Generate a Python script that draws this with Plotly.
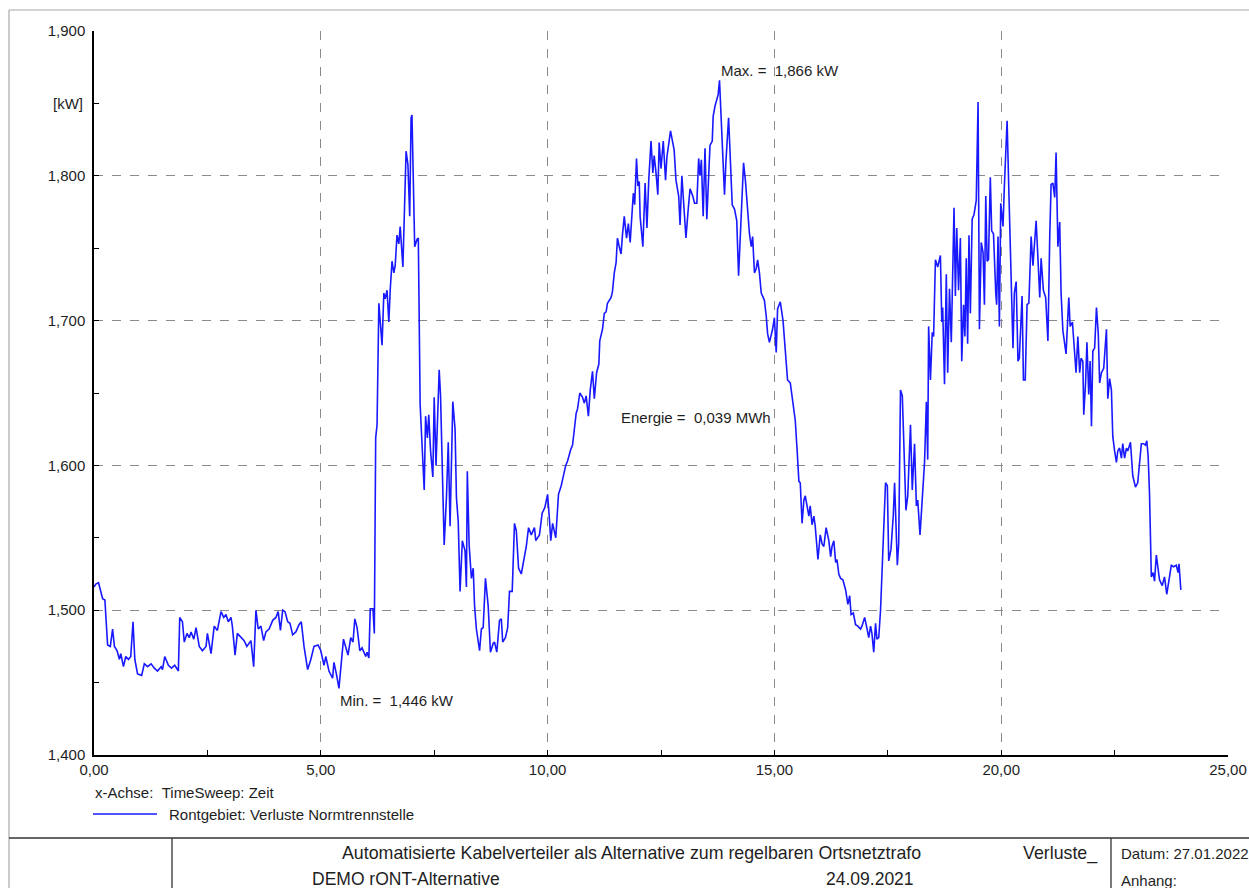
import plotly.graph_objects as go

# ---------------- data ----------------
time_h = [
    0.00, 0.04, 0.10, 0.19, 0.24, 0.30, 0.36, 0.41, 0.45, 0.51, 0.56, 0.59, 0.65, 0.70, 0.76, 0.81, 0.86, 0.90, 0.96, 1.05,
    1.11, 1.18, 1.26, 1.33, 1.40, 1.48, 1.51, 1.56, 1.64, 1.71, 1.78, 1.86, 1.89, 1.95, 1.99, 2.05, 2.10, 2.14, 2.20, 2.25,
    2.32, 2.39, 2.47, 2.50, 2.58, 2.65, 2.72, 2.80, 2.86, 2.91, 2.96, 3.02, 3.05, 3.11, 3.16, 3.24, 3.31, 3.37, 3.46, 3.52,
    3.57, 3.62, 3.68, 3.74, 3.79, 3.86, 3.94, 4.01, 4.06, 4.11, 4.16, 4.21, 4.27, 4.32, 4.38, 4.45, 4.52, 4.57, 4.63, 4.71,
    4.78, 4.85, 4.94, 5.00,
    5.07, 5.11, 5.18, 5.26, 5.29, 5.35, 5.40, 5.50, 5.55, 5.60, 5.66, 5.71, 5.75, 5.80, 5.86, 5.91, 5.99, 6.02, 6.06, 6.09,
    6.15, 6.18, 6.21, 6.24, 6.28, 6.31, 6.35, 6.39, 6.42, 6.46, 6.50, 6.53, 6.57, 6.61, 6.64, 6.68, 6.72, 6.75, 6.81, 6.88,
    6.92, 6.96, 6.99, 7.01, 7.07, 7.12, 7.15, 7.19, 7.23, 7.28, 7.31, 7.35, 7.38, 7.42, 7.47, 7.50, 7.54, 7.61, 7.64, 7.69,
    7.72, 7.77, 7.81, 7.85, 7.91, 7.96, 7.99, 8.03, 8.07, 8.12, 8.18, 8.21, 8.23, 8.27, 8.32, 8.36, 8.39, 8.43, 8.50, 8.54,
    8.58, 8.63, 8.69, 8.74, 8.80, 8.83, 8.88, 8.94, 8.98, 9.01, 9.07, 9.12, 9.16, 9.22, 9.27, 9.31, 9.36, 9.42, 9.47, 9.53,
    9.58, 9.64, 9.71, 9.74, 9.82, 9.88, 9.94, 10.00, 10.04, 10.07, 10.11, 10.18, 10.24, 10.30,
    10.40, 10.44, 10.51, 10.55, 10.63, 10.66, 10.71, 10.77, 10.81, 10.85, 10.90, 10.94, 10.99, 11.03, 11.08, 11.13, 11.15,
    11.21, 11.25, 11.29, 11.32, 11.36, 11.40, 11.43, 11.47, 11.51, 11.54, 11.58, 11.62, 11.65, 11.69, 11.74, 11.78, 11.82,
    11.86, 11.89, 11.92, 11.96, 11.99, 12.02, 12.04, 12.10, 12.15, 12.19, 12.23, 12.28, 12.32, 12.35, 12.39, 12.43, 12.46,
    12.50, 12.55, 12.60, 12.63, 12.67, 12.71, 12.74, 12.79, 12.83, 12.89, 12.92, 12.96, 13.00, 13.05, 13.10, 13.14, 13.20,
    13.24, 13.29, 13.33, 13.36, 13.39, 13.43, 13.47, 13.51, 13.55, 13.58, 13.63, 13.65, 13.69, 13.73, 13.76, 13.79, 13.82,
    13.86, 13.90, 13.93, 13.99, 14.02, 14.07, 14.12, 14.17, 14.21, 14.25, 14.32, 14.36, 14.41, 14.45, 14.49, 14.52, 14.56,
    14.60, 14.63, 14.67, 14.71, 14.74, 14.78, 14.82, 14.85, 14.89, 14.93, 14.96, 15.00, 15.04, 15.07, 15.13,
    15.19, 15.24, 15.29, 15.35, 15.41, 15.46, 15.50, 15.54, 15.57, 15.61, 15.65, 15.68, 15.72, 15.76, 15.79, 15.83, 15.87,
    15.90, 15.96, 16.01, 16.05, 16.09, 16.14, 16.20, 16.24, 16.27, 16.31, 16.35, 16.38, 16.42, 16.46, 16.51, 16.57, 16.62,
    16.66, 16.69, 16.74, 16.79, 16.84, 16.90, 16.93, 16.99, 17.03, 17.08, 17.12, 17.15, 17.19, 17.23, 17.26, 17.30, 17.34,
    17.40, 17.45, 17.49, 17.52, 17.57, 17.62, 17.65, 17.71, 17.74, 17.78, 17.82, 17.85, 17.90, 17.94, 18.00, 18.04, 18.09,
    18.13, 18.16, 18.21, 18.26, 18.31, 18.35, 18.38, 18.40, 18.44, 18.48, 18.51, 18.55, 18.60, 18.66,
    18.69, 18.71, 18.75, 18.79, 18.82, 18.86, 18.90, 18.96, 18.99, 19.02, 19.06, 19.10, 19.13, 19.17, 19.20, 19.23, 19.26,
    19.29, 19.32, 19.36, 19.40, 19.45, 19.49, 19.52, 19.56, 19.60, 19.63, 19.66, 19.69, 19.72, 19.76, 19.79, 19.83, 19.88,
    19.90, 19.93, 19.96, 19.99, 20.04, 20.07, 20.13, 20.17, 20.22, 20.26, 20.29, 20.33, 20.37, 20.40, 20.46, 20.49, 20.53,
    20.57, 20.61, 20.66, 20.70, 20.74, 20.77, 20.81, 20.85, 20.88, 20.93, 20.98, 21.03, 21.07, 21.10, 21.14, 21.18, 21.21,
    21.25, 21.29, 21.32, 21.36, 21.40, 21.43, 21.49, 21.52, 21.57, 21.62, 21.65, 21.69, 21.73, 21.76, 21.80, 21.82, 21.86,
    21.89, 21.93, 21.96, 21.99, 22.02, 22.06, 22.10, 22.14, 22.17, 22.21, 22.26, 22.32, 22.35, 22.39, 22.43, 22.46, 22.50,
    22.54, 22.57, 22.61, 22.65, 22.68, 22.72, 22.76, 22.79, 22.85, 22.90, 22.96, 23.01, 23.05, 23.09, 23.14, 23.18, 23.21,
    23.24, 23.27, 23.31, 23.35, 23.38, 23.42, 23.46, 23.49, 23.55, 23.60, 23.65, 23.70, 23.75, 23.80, 23.86, 23.90, 23.92,
    23.96,
]

loss_kw = [
    1.516, 1.518, 1.519, 1.508, 1.507, 1.476, 1.475, 1.487, 1.475, 1.472, 1.466, 1.470, 1.461, 1.468, 1.466, 1.468, 1.492, 1.466, 1.456, 1.455,
    1.463, 1.461, 1.463, 1.460, 1.458, 1.461, 1.459, 1.468, 1.462, 1.460, 1.462, 1.458, 1.495, 1.492, 1.478, 1.484, 1.481, 1.485, 1.480, 1.488,
    1.475, 1.472, 1.475, 1.484, 1.470, 1.489, 1.486, 1.499, 1.495, 1.497, 1.492, 1.495, 1.489, 1.469, 1.484, 1.481, 1.479, 1.475, 1.479, 1.461,
    1.500, 1.487, 1.489, 1.479, 1.485, 1.487, 1.493, 1.495, 1.499, 1.486, 1.500, 1.499, 1.492, 1.491, 1.483, 1.485, 1.490, 1.492, 1.475, 1.459,
    1.466, 1.475, 1.476, 1.472,
    1.462, 1.468, 1.458, 1.453, 1.464, 1.455, 1.446, 1.480, 1.474, 1.469, 1.481, 1.478, 1.494, 1.488, 1.472, 1.474, 1.468, 1.471, 1.467, 1.501,
    1.501, 1.484, 1.619, 1.628, 1.712, 1.698, 1.683, 1.719, 1.715, 1.721, 1.699, 1.721, 1.741, 1.733, 1.738, 1.759, 1.753, 1.765, 1.737, 1.817,
    1.808, 1.772, 1.840, 1.842, 1.751, 1.756, 1.757, 1.642, 1.619, 1.583, 1.634, 1.619, 1.635, 1.610, 1.592, 1.647, 1.600, 1.666, 1.648, 1.574,
    1.545, 1.578, 1.616, 1.558, 1.644, 1.625, 1.578, 1.561, 1.513, 1.548, 1.541, 1.516, 1.596, 1.545, 1.522, 1.529, 1.503, 1.487, 1.472, 1.487,
    1.488, 1.522, 1.503, 1.471, 1.477, 1.478, 1.471, 1.493, 1.494, 1.478, 1.481, 1.488, 1.513, 1.513, 1.560, 1.555, 1.529, 1.525, 1.533, 1.544,
    1.557, 1.552, 1.557, 1.548, 1.552, 1.567, 1.571, 1.580, 1.563, 1.548, 1.560, 1.550, 1.580, 1.586,
    1.600, 1.603, 1.611, 1.614, 1.636, 1.639, 1.650, 1.647, 1.643, 1.648, 1.634, 1.652, 1.665, 1.646, 1.664, 1.670, 1.686,
    1.694, 1.705, 1.706, 1.712, 1.714, 1.716, 1.720, 1.733, 1.740, 1.757, 1.751, 1.746, 1.759, 1.772, 1.757, 1.767, 1.754,
    1.775, 1.788, 1.780, 1.812, 1.793, 1.796, 1.772, 1.751, 1.795, 1.764, 1.797, 1.824, 1.802, 1.814, 1.802, 1.787, 1.823,
    1.805, 1.824, 1.797, 1.813, 1.823, 1.831, 1.826, 1.818, 1.797, 1.786, 1.766, 1.800, 1.781, 1.757, 1.777, 1.791, 1.786,
    1.781, 1.781, 1.812, 1.800, 1.811, 1.772, 1.819, 1.770, 1.797, 1.821, 1.824, 1.841, 1.848, 1.852, 1.856, 1.866, 1.841,
    1.810, 1.787, 1.809, 1.840, 1.818, 1.780, 1.777, 1.769, 1.731, 1.760, 1.809, 1.797, 1.775, 1.760, 1.751, 1.758, 1.733,
    1.736, 1.742, 1.733, 1.719, 1.717, 1.714, 1.703, 1.691, 1.685, 1.690, 1.694, 1.702, 1.678, 1.708, 1.713,
    1.700, 1.682, 1.659, 1.657, 1.643, 1.631, 1.611, 1.589, 1.588, 1.560, 1.576, 1.579, 1.572, 1.565, 1.572, 1.559, 1.565,
    1.558, 1.535, 1.552, 1.546, 1.544, 1.557, 1.548, 1.537, 1.544, 1.548, 1.533, 1.535, 1.525, 1.522, 1.521, 1.514, 1.504,
    1.510, 1.497, 1.498, 1.490, 1.489, 1.487, 1.489, 1.495, 1.489, 1.481, 1.489, 1.484, 1.471, 1.491, 1.480, 1.481, 1.500,
    1.542, 1.588, 1.586, 1.534, 1.542, 1.565, 1.588, 1.531, 1.546, 1.652, 1.648, 1.611, 1.569, 1.579, 1.628, 1.583, 1.615,
    1.572, 1.576, 1.552, 1.574, 1.602, 1.644, 1.604, 1.696, 1.659, 1.692, 1.689, 1.742, 1.737, 1.745,
    1.699, 1.709, 1.656, 1.732, 1.664, 1.722, 1.685, 1.778, 1.717, 1.764, 1.721, 1.757, 1.672, 1.711, 1.689, 1.743, 1.684,
    1.759, 1.705, 1.770, 1.773, 1.783, 1.851, 1.694, 1.754, 1.747, 1.711, 1.786, 1.741, 1.742, 1.799, 1.762, 1.760, 1.719,
    1.711, 1.758, 1.696, 1.781, 1.765, 1.793, 1.838, 1.788, 1.721, 1.681, 1.719, 1.727, 1.672, 1.674, 1.717, 1.659, 1.659,
    1.711, 1.712, 1.758, 1.738, 1.756, 1.769, 1.743, 1.716, 1.743, 1.721, 1.716, 1.686, 1.758, 1.794, 1.795, 1.785, 1.816,
    1.751, 1.768, 1.719, 1.693, 1.684, 1.677, 1.716, 1.696, 1.699, 1.672, 1.664, 1.689, 1.664, 1.674, 1.672, 1.635, 1.657,
    1.685, 1.649, 1.672, 1.627, 1.679, 1.681, 1.709, 1.691, 1.657, 1.664, 1.667, 1.694, 1.646, 1.660, 1.652, 1.620, 1.610,
    1.602, 1.610, 1.612, 1.605, 1.615, 1.605, 1.612, 1.610, 1.616, 1.593, 1.585, 1.588, 1.600, 1.615, 1.615, 1.614, 1.617,
    1.606, 1.580, 1.523, 1.526, 1.520, 1.538, 1.526, 1.521, 1.517, 1.523, 1.511, 1.523, 1.531, 1.530, 1.531, 1.526, 1.532,
    1.514,
]

x_range = [0, 25]
y_range = [1.4, 1.9]
series_name = "Rontgebiet: Verluste Normtrennstelle"
x_axis_label = "x-Achse:\u00a0\u00a0TimeSweep: Zeit"
y_unit = "[kW]"
max_text = "Max. =\u00a0\u00a01,866 kW"
min_text = "Min. =\u00a0\u00a01,446 kW"
energy_text = "Energie =\u00a0\u00a00,039 MWh"
title_line1 = "Automatisierte Kabelverteiler als Alternative zum regelbaren Ortsnetztrafo"
title_line2 = "DEMO rONT-Alternative"
version_text = "Verluste_"
date_run = "24.09.2021"
datum_text = "Datum: 27.01.2022"
anhang_text = "Anhang:"

# ---------------- layout geometry ----------------
W, H = 1249, 888
ML, MR, MT, MB = 94, 21, 31, 133
PW, PH = W - ML - MR, H - MT - MB


def px(xpage):
    return (xpage - ML) / PW


def py(ypage):
    return (H - MB - ypage) / PH


FONT = "Liberation Sans, Arial, Helvetica, sans-serif"
TXT = "#1e1e1e"
LINE_BLUE = "rgb(25,25,255)"

fig = go.Figure()
fig.add_trace(go.Scatter(
    x=time_h, y=loss_kw, mode="lines", name=series_name,
    line=dict(color=LINE_BLUE, width=1.6), hoverinfo="x+y",
))

fig.update_layout(
    width=W, height=H,
    margin=dict(l=ML, r=MR, t=MT, b=MB, autoexpand=False),
    paper_bgcolor="white", plot_bgcolor="white",
    showlegend=False, separators=",.",
    font=dict(family=FONT, size=15, color=TXT),
)

axis_common = dict(
    showline=True, linecolor="black", linewidth=1.5,
    showgrid=True, gridcolor="#8a8a8a", gridwidth=1, griddash="dash",
    zeroline=False, ticks="inside", ticklen=5, tickcolor="black",
    tickfont=dict(family=FONT, size=15, color=TXT), automargin=False,
)
fig.update_xaxes(range=x_range, tick0=0, dtick=5, tickformat=".2f",
                 minor=dict(dtick=2.5, ticks="inside", ticklen=5, tickcolor="black", showgrid=False),
                 **axis_common)
fig.update_yaxes(range=y_range, tick0=1.4, dtick=0.1, tickformat=".3f",
                 ticklabelstandoff=4,
                 minor=dict(dtick=0.05, ticks="inside", ticklen=5, tickcolor="black", showgrid=False),
                 **axis_common)

ann = []
ann.append(dict(x=px(85), xref="paper", y=1.85, yref="y", text=y_unit, showarrow=False,
                xanchor="right", yanchor="middle", font=dict(size=15, color=TXT)))
ann.append(dict(x=13.77, y=1.8725, xref="x", yref="y", text=max_text, showarrow=False,
                xanchor="left", yanchor="middle"))
ann.append(dict(x=5.38, y=1.4375, xref="x", yref="y", text=min_text, showarrow=False,
                xanchor="left", yanchor="middle"))
ann.append(dict(x=11.57, y=1.6334, xref="x", yref="y", text=energy_text, showarrow=False,
                xanchor="left", yanchor="middle"))
ann.append(dict(x=px(93), y=py(792), xref="paper", yref="paper", text=x_axis_label, showarrow=False,
                xanchor="left", yanchor="middle"))
ann.append(dict(x=px(167), y=py(814), xref="paper", yref="paper", text=series_name, showarrow=False,
                xanchor="left", yanchor="middle"))
# title block
ann.append(dict(x=px(631), y=py(853), xref="paper", yref="paper", text=title_line1, showarrow=False,
                xanchor="center", yanchor="middle", font=dict(size=17.8)))
ann.append(dict(x=px(1021), y=py(853), xref="paper", yref="paper", text=version_text, showarrow=False,
                xanchor="left", yanchor="middle", font=dict(size=17.8)))
ann.append(dict(x=px(310), y=py(879), xref="paper", yref="paper", text=title_line2, showarrow=False,
                xanchor="left", yanchor="middle", font=dict(size=17.5)))
ann.append(dict(x=px(870), y=py(879), xref="paper", yref="paper", text=date_run, showarrow=False,
                xanchor="center", yanchor="middle", font=dict(size=17.5)))
ann.append(dict(x=px(1119), y=py(853), xref="paper", yref="paper", text=datum_text, showarrow=False,
                xanchor="left", yanchor="middle", font=dict(size=15)))
ann.append(dict(x=px(1119), y=py(880), xref="paper", yref="paper", text=anhang_text, showarrow=False,
                xanchor="left", yanchor="middle", font=dict(size=15)))
fig.update_layout(annotations=ann)

shapes = []
shapes.append(dict(type="line", xref="paper", yref="paper", x0=px(9), x1=px(1260), y0=py(10), y1=py(10),
                   line=dict(color="#a8a8a8", width=1.2)))
shapes.append(dict(type="line", xref="paper", yref="paper", x0=px(9), x1=px(9), y0=py(10), y1=py(900),
                   line=dict(color="#a8a8a8", width=1.2)))
shapes.append(dict(type="line", xref="paper", yref="paper", x0=px(93), x1=px(157), y0=py(814), y1=py(814),
                   line=dict(color=LINE_BLUE, width=1.6)))
shapes.append(dict(type="line", xref="paper", yref="paper", x0=px(9), x1=px(1260), y0=py(838), y1=py(838),
                   line=dict(color="#333333", width=1.6)))
shapes.append(dict(type="line", xref="paper", yref="paper", x0=px(172), x1=px(172), y0=py(838), y1=py(900),
                   line=dict(color="#333333", width=1.3)))
shapes.append(dict(type="line", xref="paper", yref="paper", x0=px(1111), x1=px(1111), y0=py(838), y1=py(900),
                   line=dict(color="#333333", width=1.3)))
fig.update_layout(shapes=shapes)

fig.write_html(
    "out.html",
    config={"displayModeBar": False},
    post_script="document.body.style.margin='0px';document.body.style.overflow='hidden';",
)
